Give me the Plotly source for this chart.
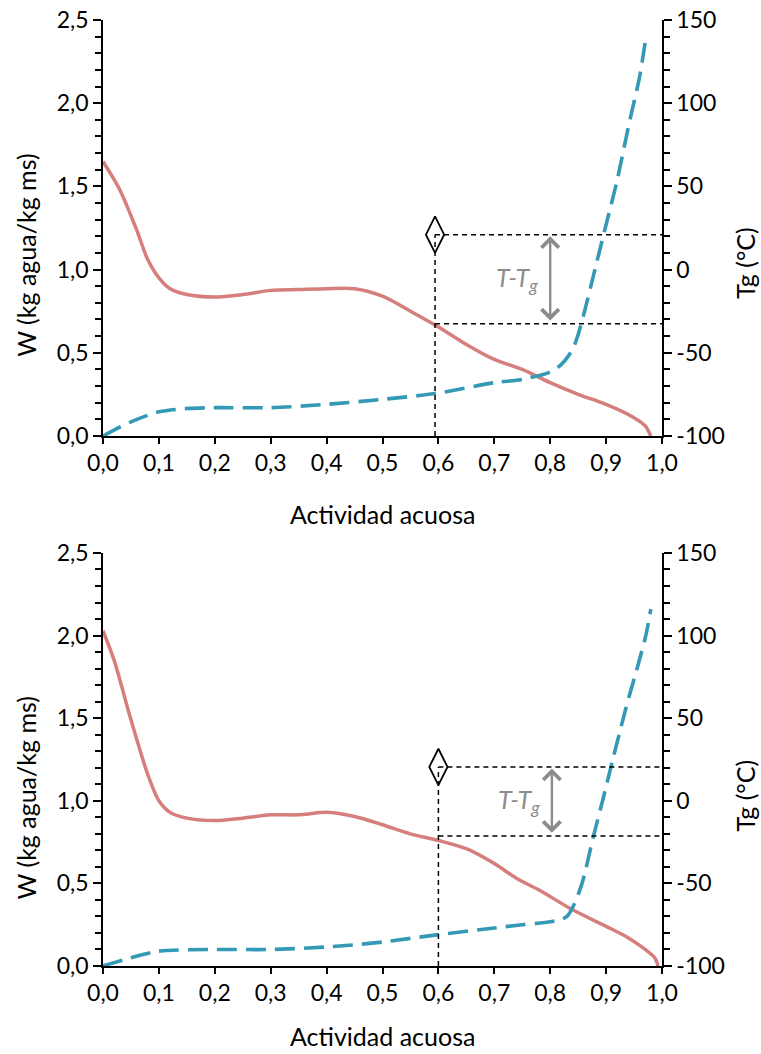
import plotly.graph_objects as go

# ---------------- data ----------------
# Top panel
aw_W1 = [0.0, 0.03, 0.06, 0.08, 0.10, 0.12, 0.15, 0.20, 0.25, 0.30, 0.35, 0.40, 0.45, 0.50, 0.55,
         0.60, 0.65, 0.70, 0.75, 0.80, 0.85, 0.90, 0.95, 0.97, 0.98]
W1 = [1.65, 1.48, 1.24, 1.06, 0.95, 0.885, 0.85, 0.835, 0.85, 0.875, 0.88, 0.885, 0.885, 0.84, 0.75,
      0.655, 0.55, 0.46, 0.40, 0.32, 0.25, 0.19, 0.11, 0.06, 0.0]
aw_T1 = [0.0, 0.05, 0.10, 0.15, 0.20, 0.30, 0.40, 0.50, 0.594, 0.70, 0.75, 0.80, 0.82, 0.84, 0.85,
         0.86, 0.88, 0.90, 0.92, 0.94, 0.96, 0.97]
Tg1 = [-100, -91.5, -85.5, -83.5, -83, -83, -81, -78, -74.5, -68, -66, -61.5, -57, -48, -39,
       -27, 0, 27, 54, 86, 116, 137]
ref1_aw = 0.594
ref1_T = [21, -32.5]

# Bottom panel
aw_W2 = [0.0, 0.02, 0.05, 0.08, 0.10, 0.12, 0.15, 0.20, 0.25, 0.30, 0.35, 0.40, 0.45, 0.50, 0.55,
         0.60, 0.65, 0.70, 0.74, 0.78, 0.84, 0.90, 0.94, 0.97, 0.987, 0.993]
W2 = [2.03, 1.85, 1.49, 1.16, 1.0, 0.93, 0.895, 0.88, 0.895, 0.915, 0.915, 0.93, 0.905, 0.855, 0.80,
      0.76, 0.71, 0.62, 0.53, 0.46, 0.34, 0.24, 0.17, 0.10, 0.05, 0.0]
aw_T2 = [0.0, 0.05, 0.10, 0.20, 0.30, 0.40, 0.50, 0.60, 0.70, 0.75, 0.782, 0.818, 0.830, 0.841,
         0.857, 0.877, 0.894, 0.912, 0.930, 0.941, 0.952, 0.961, 0.971, 0.980]
Tg2 = [-100, -95, -91, -90, -90, -88.5, -85.5, -81, -77, -75, -74, -72, -70, -64,
       -50, -22, 0.5, 25, 49, 63, 76, 87, 100, 116]
ref2_aw = 0.60
ref2_T = [20.5, -21.3]

x_ticks = [0.0, 0.1, 0.2, 0.3, 0.4, 0.5, 0.6, 0.7, 0.8, 0.9, 1.0]
tg_ticks = [-100, -50, 0, 50, 100, 150]
tg_ticktext = ["-100", "-50", "0", "50", "100", "150"]

# ---------------- style ----------------
FONT = "Lato"
PINK = "#d57e7c"
BLUE = "#3399b5"
GRAY = "#8c8c8c"

fig = go.Figure()

panels = [
    dict(xa="x", ya="y", ya2="y2", awW=aw_W1, W=W1, awT=aw_T1, Tg=Tg1, ref_aw=ref1_aw, refT=ref1_T, arrow_aw=0.80),
    dict(xa="x2", ya="y3", ya2="y4", awW=aw_W2, W=W2, awT=aw_T2, Tg=Tg2, ref_aw=ref2_aw, refT=ref2_T, arrow_aw=0.803),
]

shapes = []
annotations = []
for p in panels:
    fig.add_trace(go.Scatter(x=p["awW"], y=p["W"], xaxis=p["xa"], yaxis=p["ya"], mode="lines",
                             line=dict(color=PINK, width=3.5, shape="spline", smoothing=0.8),
                             showlegend=False, hoverinfo="skip"))
    fig.add_trace(go.Scatter(x=p["awT"], y=p["Tg"], xaxis=p["xa"], yaxis=p["ya2"], mode="lines",
                             line=dict(color=BLUE, width=3.6, shape="spline", smoothing=0.8, dash="20px,9px"),
                             showlegend=False, hoverinfo="skip"))
    xr = p["xa"]
    dash_style = dict(color="black", width=1.5, dash="5px,4px")
    shapes.append(dict(type="line", xref=xr, yref=p["ya2"], x0=p["ref_aw"], x1=p["ref_aw"],
                       y0=-100, y1=p["refT"][0], line=dash_style))
    shapes.append(dict(type="line", xref=xr, yref=p["ya2"], x0=p["ref_aw"], x1=1.0,
                       y0=p["refT"][0], y1=p["refT"][0], line=dash_style))
    shapes.append(dict(type="line", xref=xr, yref=p["ya2"], x0=p["ref_aw"], x1=1.0,
                       y0=p["refT"][1], y1=p["refT"][1], line=dash_style))
    # diamond marker (open, dashed line visible through it)
    fig.add_trace(go.Scatter(x=[p["ref_aw"]], y=[p["refT"][0]], xaxis=p["xa"], yaxis=p["ya2"], mode="markers",
                             marker=dict(symbol="diamond-tall-open", size=26, color="black",
                                         line=dict(color="black", width=1.8)),
                             showlegend=False, hoverinfo="skip"))
    # double arrow
    annotations.append(dict(xref=xr, yref=p["ya2"], axref=xr, ayref=p["ya2"],
                            x=p["arrow_aw"], y=p["refT"][0] - 1.0, ax=p["arrow_aw"], ay=p["refT"][1] + 1.0,
                            showarrow=True, arrowhead=4, startarrowhead=4, arrowside="end+start",
                            arrowwidth=2.4, arrowsize=1.4, startarrowsize=1.4, arrowcolor=GRAY, text=""))
    annotations.append(dict(xref=xr, yref=p["ya2"], x=p["arrow_aw"] - 0.018,
                            y=(p["refT"][0] + p["refT"][1]) / 2,
                            text="<i>T-T<sub>g</sub></i>", showarrow=False, xanchor="right", yanchor="middle",
                            font=dict(family=FONT, size=25, color=GRAY)))

# axis titles
top_dom = [0.5603, 1.0]
bot_dom = [0.0, 0.4366]
title_font = dict(family=FONT, size=25, color="black")
for xt_y, w_y, tg_y in [(0.478, 0.7516, 0.743), (-0.074, 0.178, 0.18)]:
    annotations.append(dict(xref="paper", yref="paper", x=0.5, y=xt_y, text="Actividad acuosa",
                            showarrow=False, font=title_font, yanchor="middle"))
    annotations.append(dict(xref="paper", yref="paper", x=-0.138, y=w_y, text="W (kg agua/kg ms)",
                            textangle=-90, showarrow=False, font=title_font, xanchor="center", yanchor="middle"))
    annotations.append(dict(xref="paper", yref="paper", x=1.148, y=tg_y, text="Tg (°C)",
                            textangle=-90, showarrow=False, font=title_font, xanchor="center", yanchor="middle"))

tickfont = dict(family=FONT, size=23, color="black")
xcommon = dict(range=[0, 1.0], tickvals=x_ticks, tickformat=".1f", showline=True, linecolor="black",
               linewidth=1.5, ticks="outside", ticklen=6, tickwidth=1.5, tickcolor="black",
               showgrid=False, zeroline=False, tickfont=tickfont, automargin=False)
ycommon = dict(range=[0, 2.5], dtick=0.5, tickformat=".1f", showline=True, linecolor="black", linewidth=1.5,
               ticks="outside", ticklen=8, tickwidth=1.5, tickcolor="black", showgrid=False, zeroline=False,
               tickfont=tickfont, automargin=False,
               minor=dict(dtick=0.1, ticks="outside", ticklen=6, tickwidth=1.5,
                          tickcolor="black", showgrid=False))
y2common = dict(range=[-100, 150], tickvals=tg_ticks, ticktext=tg_ticktext, showline=True, linecolor="black",
                linewidth=1.5, ticks="outside", ticklen=8, tickwidth=1.5, tickcolor="black", showgrid=False,
                zeroline=False, tickfont=tickfont, side="right", automargin=False,
                minor=dict(dtick=10, ticks="outside", ticklen=6, tickwidth=1.5, tickcolor="black", showgrid=False))

fig.update_layout(
    width=761, height=1054,
    margin=dict(l=103, r=99, t=20, b=88, autoexpand=False),
    paper_bgcolor="white", plot_bgcolor="white",
    separators=",.",
    font=dict(family=FONT, size=20, color="black"),
    xaxis=dict(domain=[0, 1], anchor="y", **xcommon),
    yaxis=dict(domain=top_dom, anchor="x", **ycommon),
    yaxis2=dict(domain=top_dom, anchor="x", overlaying="y", **y2common),
    xaxis2=dict(domain=[0, 1], anchor="y3", **xcommon),
    yaxis3=dict(domain=bot_dom, anchor="x2", **ycommon),
    yaxis4=dict(domain=bot_dom, anchor="x2", overlaying="y3", **y2common),
    shapes=shapes,
    annotations=annotations,
    showlegend=False,
)

fig.write_html("out.html", config={"displayModeBar": False},
               post_script="document.body.style.margin='0px';document.body.style.overflow='hidden';")
